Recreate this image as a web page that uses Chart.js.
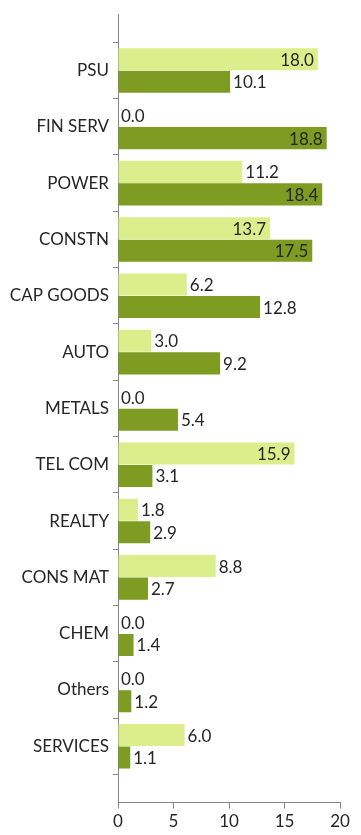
<!DOCTYPE html>
<html>
<head>
<meta charset="utf-8">
<script src="https://cdn.jsdelivr.net/npm/chart.js@4/dist/chart.umd.min.js"></script>
<style>
  html, body { margin: 0; padding: 0; background: #ffffff; }
  #wrap { position: relative; width: 361px; height: 835px; }
</style>
</head>
<body>
<div id="wrap"><canvas id="c" width="361" height="835"></canvas></div>
<script>
const categories = ['PSU', 'FIN SERV', 'POWER', 'CONSTN', 'CAP GOODS', 'AUTO', 'METALS', 'TEL COM', 'REALTY', 'CONS MAT', 'CHEM', 'Others', 'SERVICES'];
const lightSeries = [18.0, 0.0, 11.2, 13.7, 6.2, 3.0, 0.0, 15.9, 1.8, 8.8, 0.0, 0.0, 6.0];
const darkSeries  = [10.1, 18.8, 18.4, 17.5, 12.8, 9.2, 5.4, 3.1, 2.9, 2.7, 1.4, 1.2, 1.1];
const xTicks = [0, 5, 10, 15, 20];

// pad with empty slots at each end so the axis extends half a band beyond
const labels = [''].concat(categories, ['']);
const pad = arr => [null].concat(arr, [null]);

const FONT = 'Lato, "Open Sans", sans-serif';
const TEXT = '#262626';
const AXIS = '#868686';

const valueLabels = {
  id: 'valueLabels',
  afterDatasetsDraw(chart) {
    const ctx = chart.ctx;
    ctx.save();
    ctx.font = '17px ' + FONT;
    ctx.fillStyle = TEXT;
    ctx.textBaseline = 'middle';
    chart.data.datasets.forEach((ds, di) => {
      const meta = chart.getDatasetMeta(di);
      meta.data.forEach((bar, i) => {
        const v = ds.data[i];
        if (v === null || v === undefined) return;
        const txt = v.toFixed(1);
        if (v > 13) {
          ctx.textAlign = 'right';
          ctx.fillText(txt, bar.x - 4, bar.y + 1);
        } else {
          ctx.textAlign = 'left';
          ctx.fillText(txt, bar.x + 3, bar.y + 1);
        }
      });
    });
    ctx.restore();
  }
};

new Chart(document.getElementById('c'), {
  type: 'bar',
  data: {
    labels: labels,
    datasets: [
      { label: 'A', data: pad(lightSeries), backgroundColor: '#dcee8c', barPercentage: 0.98, categoryPercentage: 0.8 },
      { label: 'B', data: pad(darkSeries),  backgroundColor: '#7e9b22', barPercentage: 0.98, categoryPercentage: 0.8 }
    ]
  },
  options: {
    indexAxis: 'y',
    responsive: false,
    animation: false,
    layout: { padding: { top: 5, right: 21, bottom: 0, left: 0 } },
    plugins: { legend: { display: false }, tooltip: { enabled: false } },
    scales: {
      y: {
        type: 'category',
        offset: false,
        afterFit: s => { s.width = 118; },
        grid: { drawOnChartArea: false, tickLength: 5, color: AXIS, tickColor: AXIS },
        border: { color: AXIS, width: 1 },
        ticks: { color: TEXT, font: { family: FONT, size: 17 }, padding: 4, autoSkip: false }
      },
      x: {
        type: 'linear',
        min: xTicks[0],
        max: xTicks[xTicks.length - 1],
        afterBuildTicks: s => { s.ticks = xTicks.map(v => ({ value: v })); },
        grid: { drawOnChartArea: false, tickLength: 6, color: AXIS, tickColor: AXIS },
        border: { color: AXIS, width: 1 },
        ticks: { color: TEXT, font: { family: FONT, size: 17 }, padding: 3 }
      }
    }
  },
  plugins: [valueLabels]
});
</script>
</body>
</html>
